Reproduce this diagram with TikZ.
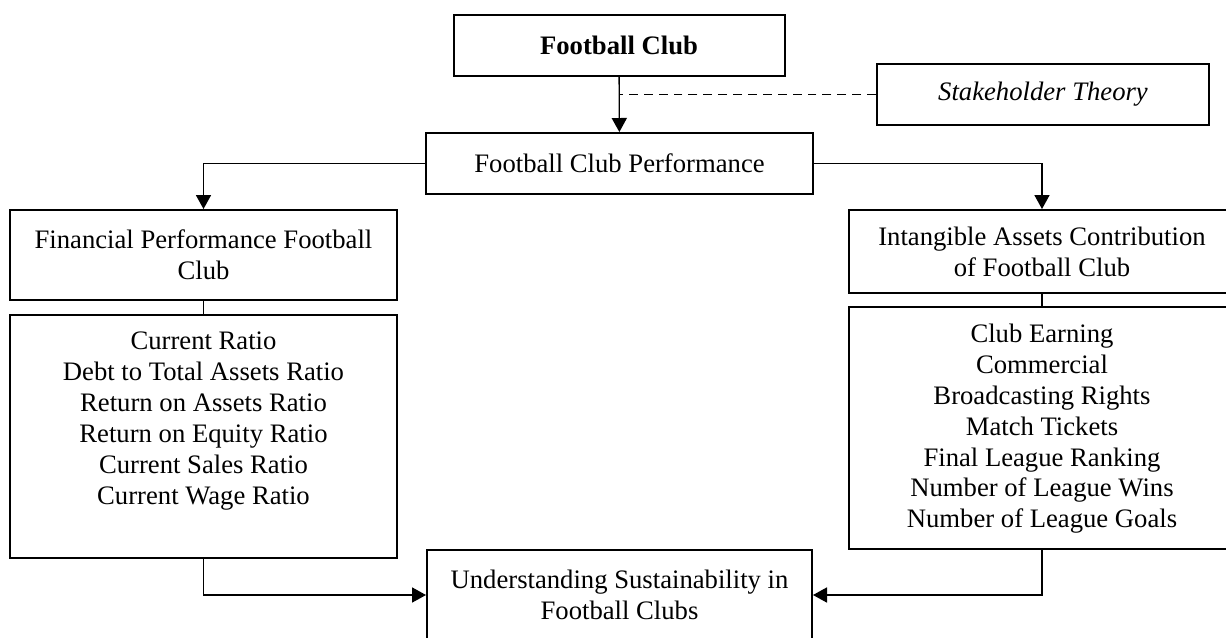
\documentclass[tikz,border=0pt]{standalone}
\usepackage{fontspec}
\setmainfont{Liberation Serif}
\usetikzlibrary{positioning,arrows.meta}
\newdimen\pxu \pxu=0.45pt
\tikzset{
  box/.style={draw, line width=0.9pt, inner sep=0pt, align=center,
    font=\fontsize{12}{13.9}\selectfont},
  list/.style={inner sep=0pt, align=center, font=\fontsize{12}{13.9}\selectfont},
  link/.style={line width=0.6pt},
  arr/.style={line width=0.6pt, -{Triangle[length=6.3pt,width=6.8pt]}},
}

\begin{document}
\begin{tikzpicture}[x=0.45pt, y=-0.45pt]
      \useasboundingbox (0,0) rectangle (1226,637);
      \node[box, minimum width=331\pxu, minimum height=61\pxu] (fc) at (619,45.5) {\textbf{Football Club}};
      \node[box, minimum width=332\pxu, minimum height=61\pxu] (st) at (1043,94.5) {\textit{Stakeholder Theory}};
      \node[box, minimum width=387\pxu, minimum height=61\pxu] (perf) at (619.5,163.5) {Football Club Performance};

      \node[box, minimum width=387\pxu, minimum height=90\pxu] (fin) at (203.5,255) {Financial Performance Football\\Club};
      \node[box, below=5.85pt of fin, minimum width=387\pxu, minimum height=243\pxu] (finl) {};
      \node[list, below=7.9pt of finl.north] (finlt) {Current Ratio\\Debt to Total Assets Ratio\\Return on Assets Ratio\\Return on Equity Ratio\\Current Sales Ratio\\Current Wage Ratio};

      \node[box, minimum width=386\pxu, minimum height=83\pxu] (int) at (1042,251.5) {Intangible Assets Contribution\\of Football Club};
      \node[box, below=5.4pt of int, minimum width=386\pxu, minimum height=242\pxu] (intl) {};
      \node[list, below=7.9pt of intl.north] (intlt) {Club Earning\\Commercial\\Broadcasting Rights\\Match Tickets\\Final League Ranking\\Number of League Wins\\Number of League Goals};

      \node[box, minimum width=385\pxu, minimum height=90\pxu] (sus) at (619.5,595) {Understanding Sustainability in\\Football Clubs};

      \draw[arr] (fc) -- (perf);
      \draw[line width=0.5pt, dash pattern=on 4pt off 2.7pt] (st.west) -- (fc.south |- st.west);
      \draw[arr] (perf.west) -| (fin.north);
      \draw[arr] (perf.east) -| (int.north);
      \draw[link] (fin) -- (finl);
      \draw[link] (int) -- (intl);
      \draw[arr] (finl.south) |- (sus.west);
      \draw[arr] (intl.south) |- (sus.east);
    \end{tikzpicture}
\end{document}
